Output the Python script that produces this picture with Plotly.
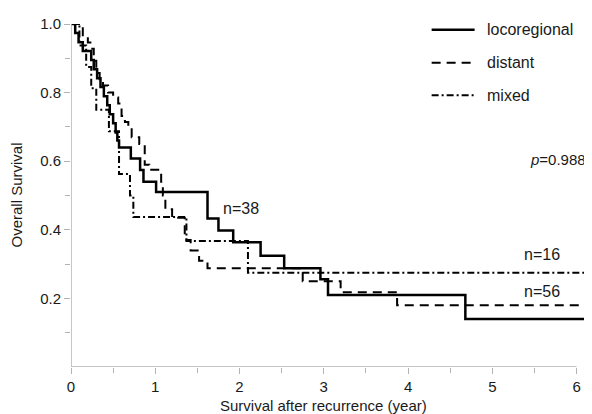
import plotly.graph_objects as go

# ---- data ----
loco_t = [0, 0.05, 0.09, 0.14, 0.24, 0.27, 0.31, 0.35, 0.39, 0.43, 0.46, 0.50, 0.53, 0.55,
          0.57, 0.71, 0.82, 0.86, 1.01, 1.62, 1.75, 1.925, 2.25, 2.53, 2.96, 3.05, 4.68]
loco_s = [1.0, 0.974, 0.947, 0.921, 0.895, 0.868, 0.842, 0.816, 0.789, 0.763, 0.737, 0.711, 0.684, 0.66,
          0.64, 0.608, 0.574, 0.54, 0.51, 0.433, 0.398, 0.364, 0.324, 0.288, 0.256, 0.21, 0.14]

dist_t = [0, 0.14, 0.20, 0.23, 0.27, 0.30, 0.34, 0.38, 0.44, 0.50, 0.56, 0.60, 0.64, 0.68, 0.72,
          0.81, 0.875, 0.93, 1.07, 1.09, 1.12, 1.20, 1.35, 1.37, 1.42, 1.52, 1.62, 2.75, 3.20, 3.87]
dist_s = [1.0, 0.964, 0.946, 0.928, 0.893, 0.857, 0.839, 0.821, 0.80, 0.786, 0.768, 0.732, 0.714, 0.696, 0.67,
          0.65, 0.59, 0.575, 0.54, 0.50, 0.46, 0.435, 0.39, 0.37, 0.34, 0.31, 0.288, 0.25, 0.218, 0.18]

mixed_t = [0, 0.10, 0.18, 0.24, 0.30, 0.45, 0.57, 0.70, 0.74, 1.37, 2.10]
mixed_s = [1.0, 0.9375, 0.875, 0.8125, 0.75, 0.6875, 0.5625, 0.50, 0.4375, 0.367, 0.275]

t_end = 6.1
series_names = ["locoregional", "distant", "mixed"]
x_ticks = [0, 1, 2, 3, 4, 5, 6]
x_minor = [0.5, 1.5, 2.5, 3.5, 4.5, 5.5]
y_ticks = [0.2, 0.4, 0.6, 0.8, 1.0]
y_minor = [0.1, 0.3, 0.5, 0.7, 0.9]
n_labels = [("n=38", 1.78, 0.462), ("n=16", 5.35, 0.327), ("n=56", 5.35, 0.22)]
p_label = ("p", "=0.988", 5.42, 0.604)

styles = [dict(color="black", width=2.5, dash="solid"),
          dict(color="black", width=2, dash="9px,6px"),
          dict(color="black", width=2, dash="7px,3px,2px,3px")]

FONT = "Liberation Sans, Arial, Helvetica, sans-serif"
AXC = "#b3b3b3"
TXT = "#1a1a1a"

fig = go.Figure()
for (t, s), name, st in zip([(loco_t, loco_s), (dist_t, dist_s), (mixed_t, mixed_s)], series_names, styles):
    fig.add_trace(go.Scatter(x=t + [t_end], y=s + [s[-1]], mode="lines", line_shape="hv",
                             line=st, name=name, showlegend=False, cliponaxis=False))

shapes = [
    dict(type="line", xref="x", yref="y", x0=0, x1=6, y0=0, y1=0, line=dict(color=AXC, width=1.5)),
    dict(type="line", xref="x", yref="y", x0=0, x1=0, y0=0, y1=1, line=dict(color=AXC, width=1.5)),
]
annotations = []
# manual legend
leg_y = [0.983, 0.887, 0.792]
for name, st, ly in zip(series_names, styles, leg_y):
    shapes.append(dict(type="line", xref="x", yref="y", x0=4.28, x1=4.79, y0=ly, y1=ly,
                       line=dict(color=st["color"], width=st["width"], dash=st["dash"])))
    annotations.append(dict(text=name, x=4.91, y=ly, xref="x", yref="y", xanchor="left", yanchor="middle",
                            showarrow=False, font=dict(family=FONT, size=16, color=TXT)))
for txt, x, y in n_labels:
    annotations.append(dict(text=txt, x=x, y=y, xref="x", yref="y", xanchor="left", yanchor="middle",
                            showarrow=False, font=dict(family=FONT, size=16, color=TXT)))
annotations.append(dict(text="<i>%s</i>%s" % (p_label[0], p_label[1]), x=p_label[2], y=p_label[3],
                        xref="x", yref="y", xanchor="left", yanchor="middle", showarrow=False,
                        font=dict(family=FONT, size=15, color=TXT)))
annotations.append(dict(text="Survival after recurrence (year)", x=3, y=0, xref="x", yref="paper",
                        yshift=-38, xanchor="center", yanchor="middle", showarrow=False,
                        font=dict(family=FONT, size=15, color=TXT)))
annotations.append(dict(text="Overall Survival", x=0, y=0.5, xref="paper", yref="y", xshift=-55,
                        textangle=-90, xanchor="center", yanchor="middle", showarrow=False,
                        font=dict(family=FONT, size=15, color=TXT)))

# page body has an 8px margin, so the figure is drawn 8px in from the top-left
fig.update_layout(
    width=584, height=406, margin=dict(l=63, r=7, t=13, b=47),
    paper_bgcolor="white", plot_bgcolor="white",
    shapes=shapes, annotations=annotations, showlegend=False,
    xaxis=dict(range=[0, t_end], showline=False, showgrid=False, zeroline=False,
               tickmode="array", tickvals=x_ticks, ticktext=[str(v) for v in x_ticks],
               ticks="outside", ticklen=6, tickcolor=AXC, tickwidth=1.2,
               tickfont=dict(family=FONT, size=15, color=TXT),
               minor=dict(tickmode="array", tickvals=x_minor, ticks="outside", ticklen=5,
                          tickcolor=AXC, tickwidth=1.2)),
    yaxis=dict(range=[0, 1], showline=False, showgrid=False, zeroline=False,
               tickmode="array", tickvals=y_ticks, ticktext=["%.1f" % v for v in y_ticks],
               ticks="outside", ticklen=6, tickcolor=AXC, tickwidth=1.2,
               tickfont=dict(family=FONT, size=15, color=TXT),
               minor=dict(tickmode="array", tickvals=y_minor, ticks="outside", ticklen=5,
                          tickcolor=AXC, tickwidth=1.2)),
)
fig.write_html("out.html")
